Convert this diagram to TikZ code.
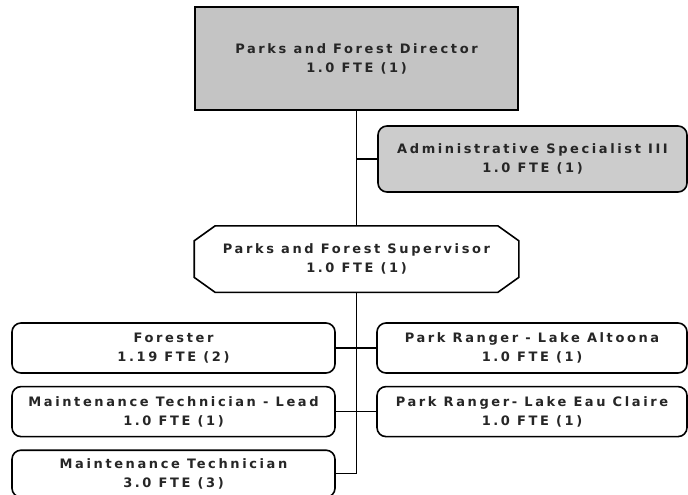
\documentclass[tikz,border=0pt]{standalone}
\usepackage{fontspec}
\setmainfont{DejaVu Sans}[LetterSpace=20]
\usetikzlibrary{positioning}

\begin{document}
\begin{tikzpicture}[
	x=1pt, y=-1pt,
	node distance=12pt,
	post/.style={draw, line width=1.6pt, align=center, inner sep=0pt, minimum width=323pt, minimum height=50pt, font=\fontsize{13pt}{19pt}\selectfont\bfseries, text=black!85},
	topbox/.style={post, fill=black!23},
	staffbox/.style={post, rounded corners=9pt, fill=white},
	link/.style={line width=1.4pt}
]
	\useasboundingbox (0,0) rectangle (688,495);

	\node[topbox, minimum height=103pt] (director) at (356.5,58.5) {Parks and Forest Director\\1.0 FTE (1)};
	\node[staffbox, fill=black!20, minimum width=309pt, minimum height=66pt] (admin) at (532.5,159) {Administrative Specialist III\\1.0 FTE (1)};
	\node[post, draw=none, minimum height=65pt, below=115pt of director] (super) {Parks and Forest Supervisor\\1.0 FTE (1)};
	\draw[line width=1.6pt] ([xshift=21pt]super.north west) -- ([xshift=-21pt]super.north east) -- ([yshift=-15pt]super.north east) -- ([yshift=15pt]super.south east) -- ([xshift=-21pt]super.south east) -- ([xshift=21pt]super.south west) -- ([yshift=15pt]super.south west) -- ([yshift=-15pt]super.north west) -- cycle;

	\node[staffbox] (forester) at (173.5,348) {Forester\\1.19 FTE (2)};
	\node[staffbox, below=of forester] (lead) {Maintenance Technician - Lead\\1.0 FTE (1)};
	\node[staffbox, below=of lead, minimum height=47pt] (maint) {Maintenance Technician\\3.0 FTE (3)};
	\node[staffbox, minimum width=310pt] (altoona) at (532,348) {Park Ranger - Lake Altoona\\1.0 FTE (1)};
	\node[staffbox, minimum width=310pt, below=of altoona] (eau) {Park Ranger- Lake Eau Claire\\1.0 FTE (1)};

	\draw[link] (director.south) -- (super.north);
	\draw[link] (admin.west) -- (admin.west -| director.south);
	\draw[link] (super.south) -- (super.south |- maint.east) -- (maint.east);
	\draw[link] (forester.east) -- (altoona.west);
	\draw[link] (lead.east) -- (eau.west);
\end{tikzpicture}
\end{document}
